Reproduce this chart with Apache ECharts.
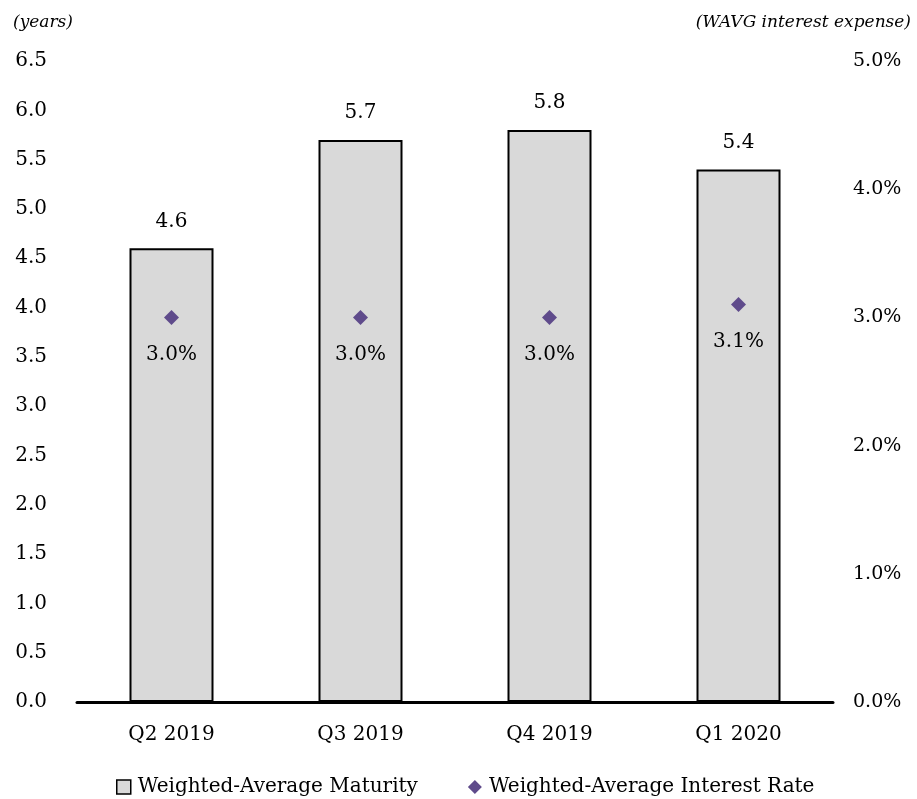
<!DOCTYPE html>
<html>
<head>
<meta charset="utf-8">
<script src="https://cdn.jsdelivr.net/npm/echarts@6/dist/echarts.min.js"></script>
<style>html,body{margin:0;padding:0;background:#fff;}#c{width:917px;height:799px;}</style>
</head>
<body>
<div id="c"></div>
<script>
const categories = ['Q2 2019', 'Q3 2019', 'Q4 2019', 'Q1 2020'];
const maturityYears = [4.6, 5.7, 5.8, 5.4];
const interestRatePct = [3.0, 3.0, 3.0, 3.1];
const leftAxisName = '(years)';
const rightAxisName = '(WAVG interest expense)';

const FONT = '"DejaVu Serif", "Liberation Serif", serif';
const FS = 20;
const chart = echarts.init(document.getElementById('c'));
chart.setOption({
  animation: false,
  textStyle: { fontFamily: FONT, color: '#000' },
  grid: { left: 77, right: 84, top: 61, bottom: 97 },
  legend: {
    top: 772, left: 111,
    itemGap: 50,
    itemWidth: 14, itemHeight: 14,
    textStyle: { fontFamily: FONT, fontSize: FS, color: '#000', padding: [0, 0, 0, 2] },
    data: [
      { name: 'Weighted-Average Maturity', icon: 'rect', itemStyle: { color: '#d9d9d9', borderColor: '#000', borderWidth: 1.5 } },
      { name: 'Weighted-Average Interest Rate', icon: 'diamond', itemStyle: { color: '#5f4b8b', opacity: 1 } }
    ]
  },
  graphic: [
    { type: 'text', left: 13, top: 14, style: { text: leftAxisName, font: 'italic 17px ' + FONT, fill: '#000' } },
    { type: 'text', right: 6, top: 14, style: { text: rightAxisName, font: 'italic 17px ' + FONT, fill: '#000' } }
  ],
  xAxis: {
    type: 'category',
    data: categories,
    axisLine: { lineStyle: { color: '#000', width: 3 } },
    axisTick: { show: false },
    axisLabel: { fontSize: FS, color: '#000', margin: 23, fontFamily: FONT }
  },
  yAxis: [
    {
      type: 'value', min: 0, max: 6.5, interval: 0.5,
      splitLine: { show: false },
      axisLine: { show: false }, axisTick: { show: false },
      axisLabel: { fontSize: FS, color: '#000', margin: 30, fontFamily: FONT, formatter: v => v.toFixed(1) }
    },
    {
      type: 'value', min: 0, max: 5, interval: 1,
      splitLine: { show: false },
      axisLine: { show: false }, axisTick: { show: false },
      axisLabel: { fontSize: FS - 1, color: '#000', margin: 20, fontFamily: FONT, formatter: v => v.toFixed(1) + '%' }
    }
  ],
  series: [
    {
      name: 'Weighted-Average Maturity',
      type: 'bar',
      data: maturityYears,
      barWidth: 84,
      itemStyle: { color: '#d9d9d9', borderColor: '#000', borderWidth: 2 },
      label: { show: true, position: 'top', distance: 17, fontSize: FS, color: '#000', fontFamily: FONT, formatter: p => p.value.toFixed(1) }
    },
    {
      name: 'Weighted-Average Interest Rate',
      type: 'scatter',
      yAxisIndex: 1,
      data: interestRatePct,
      symbol: 'diamond',
      symbolSize: 15,
      itemStyle: { color: '#5f4b8b', opacity: 1 },
      label: { show: true, position: 'bottom', distance: 20, fontSize: FS, color: '#000', fontFamily: FONT, formatter: p => p.value.toFixed(1) + '%' }
    }
  ]
});
</script>
</body>
</html>
